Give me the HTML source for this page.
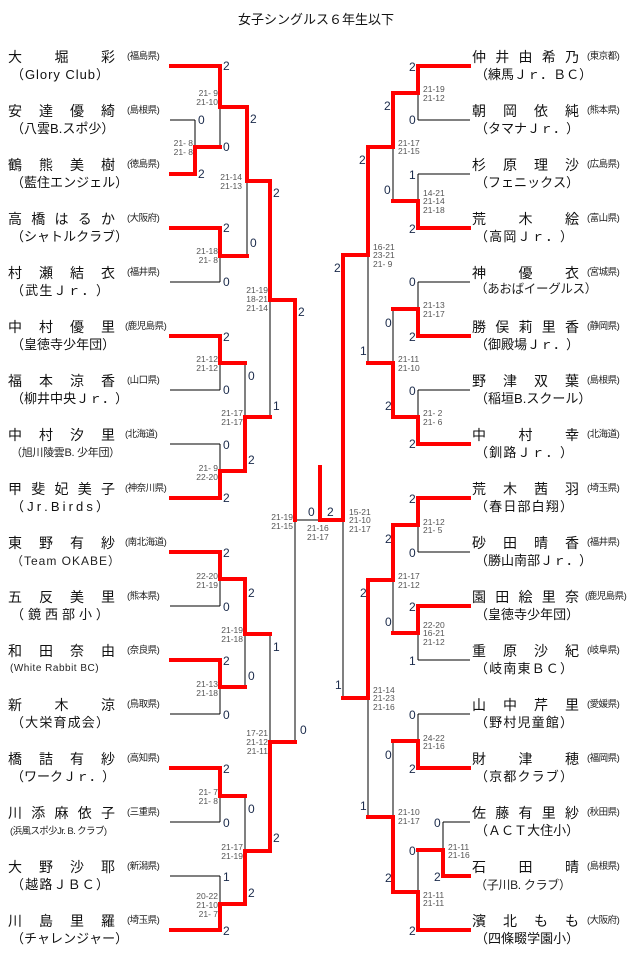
<!DOCTYPE html>
<html><head><meta charset="utf-8">
<style>
body{margin:0;width:632px;height:962px;background:#fff;position:relative;overflow:hidden;font-family:"Liberation Sans","Noto Sans CJK JP",sans-serif;}
.t{position:absolute;left:0;width:632px;top:9px;text-align:center;font-size:13px;color:#111;}
.n{position:absolute;display:flex;justify-content:space-between;width:107px;font-size:14px;line-height:16px;color:#111;}
.p{position:absolute;font-size:9.5px;line-height:12px;color:#222;letter-spacing:-0.5px;}
.m{position:absolute;display:flex;justify-content:space-between;width:98px;font-size:13px;line-height:15px;color:#111;}
.s{position:absolute;font-size:9.5px;line-height:12px;color:#222;white-space:nowrap;letter-spacing:-0.3px;}
.L .n,.L .p,.L .m,.L .s{}
svg{position:absolute;left:0;top:0;}
</style></head><body>
<div class="t">女子シングルス６年生以下</div>

<!-- LEFT -->
<div class="n" style="left:8px;top:49px"><span>大</span><span>堀</span><span>彩</span></div><div class="p" style="left:127px;top:51px">(福島県)</div>
<div class="m" style="left:11px;top:67px"><span>（</span><span>G</span><span>l</span><span>o</span><span>r</span><span>y</span><span>&nbsp;</span><span>C</span><span>l</span><span>u</span><span>b</span><span>）</span></div>

<div class="n" style="left:8px;top:103px"><span>安</span><span>達</span><span>優</span><span>綺</span></div><div class="p" style="left:127px;top:105px">(島根県)</div>
<div class="m" style="left:11px;top:121px"><span>（</span><span>八</span><span>雲</span><span>B</span><span>.</span><span>ス</span><span>ポ</span><span>少</span><span>）</span></div>

<div class="n" style="left:8px;top:157px"><span>鶴</span><span>熊</span><span>美</span><span>樹</span></div><div class="p" style="left:127px;top:159px">(徳島県)</div>
<div class="m" style="left:11px;top:175px"><span>（</span><span>藍</span><span>住</span><span>エ</span><span>ン</span><span>ジ</span><span>ェ</span><span>ル</span><span>）</span></div>

<div class="n" style="left:8px;top:211px"><span>高</span><span>橋</span><span>は</span><span>る</span><span>か</span></div><div class="p" style="left:127px;top:213px">(大阪府)</div>
<div class="m" style="left:11px;top:229px"><span>（</span><span>シ</span><span>ャ</span><span>ト</span><span>ル</span><span>ク</span><span>ラ</span><span>ブ</span><span>）</span></div>

<div class="n" style="left:8px;top:265px"><span>村</span><span>瀬</span><span>結</span><span>衣</span></div><div class="p" style="left:127px;top:267px">(福井県)</div>
<div class="m" style="left:11px;top:283px"><span>（</span><span>武</span><span>生</span><span>Ｊ</span><span>ｒ</span><span>．</span><span>）</span></div>

<div class="n" style="left:8px;top:319px"><span>中</span><span>村</span><span>優</span><span>里</span></div><div class="p" style="left:125px;top:321px">(鹿児島県)</div>
<div class="m" style="left:11px;top:337px"><span>（</span><span>皇</span><span>徳</span><span>寺</span><span>少</span><span>年</span><span>団</span><span>）</span></div>

<div class="n" style="left:8px;top:373px"><span>福</span><span>本</span><span>涼</span><span>香</span></div><div class="p" style="left:127px;top:375px">(山口県)</div>
<div class="m" style="left:11px;top:391px"><span>（</span><span>柳</span><span>井</span><span>中</span><span>央</span><span>Ｊ</span><span>ｒ</span><span>．</span><span>）</span></div>

<div class="n" style="left:8px;top:427px"><span>中</span><span>村</span><span>汐</span><span>里</span></div><div class="p" style="left:125px;top:429px">(北海道)</div>
<div class="s" style="left:11px;top:447px;font-size:11px">（旭川陵雲B. 少年団）</div>

<div class="n" style="left:8px;top:481px"><span>甲</span><span>斐</span><span>妃</span><span>美</span><span>子</span></div><div class="p" style="left:125px;top:483px">(神奈川県)</div>
<div class="m" style="left:11px;top:499px"><span>（</span><span>J</span><span>r</span><span>.</span><span>B</span><span>i</span><span>r</span><span>d</span><span>s</span><span>）</span></div>

<div class="n" style="left:8px;top:535px"><span>東</span><span>野</span><span>有</span><span>紗</span></div><div class="p" style="left:125px;top:537px">(南北海道)</div>
<div class="s" style="left:11px;top:555px;font-size:12px;letter-spacing:1px">（Team OKABE）</div>

<div class="n" style="left:8px;top:589px"><span>五</span><span>反</span><span>美</span><span>里</span></div><div class="p" style="left:127px;top:591px">(熊本県)</div>
<div class="m" style="left:11px;top:607px"><span>（</span><span>鏡</span><span>西</span><span>部</span><span>小</span><span>）</span></div>

<div class="n" style="left:8px;top:643px"><span>和</span><span>田</span><span>奈</span><span>由</span></div><div class="p" style="left:127px;top:645px">(奈良県)</div>
<div class="s" style="left:10px;top:663px;font-size:10px;letter-spacing:0.5px">(White Rabbit BC)</div>

<div class="n" style="left:8px;top:697px"><span>新</span><span>木</span><span>涼</span></div><div class="p" style="left:127px;top:699px">(鳥取県)</div>
<div class="m" style="left:11px;top:715px"><span>（</span><span>大</span><span>栄</span><span>育</span><span>成</span><span>会</span><span>）</span></div>

<div class="n" style="left:8px;top:751px"><span>橋</span><span>詰</span><span>有</span><span>紗</span></div><div class="p" style="left:127px;top:753px">(高知県)</div>
<div class="m" style="left:11px;top:769px"><span>（</span><span>ワ</span><span>ー</span><span>ク</span><span>Ｊ</span><span>ｒ</span><span>．</span><span>）</span></div>

<div class="n" style="left:8px;top:805px"><span>川</span><span>添</span><span>麻</span><span>依</span><span>子</span></div><div class="p" style="left:127px;top:807px">(三重県)</div>
<div class="s" style="left:10px;top:826px;font-size:9.5px;letter-spacing:-0.6px">(浜風スポ少Jr. B. クラブ)</div>

<div class="n" style="left:8px;top:859px"><span>大</span><span>野</span><span>沙</span><span>耶</span></div><div class="p" style="left:127px;top:861px">(新潟県)</div>
<div class="m" style="left:11px;top:877px"><span>（</span><span>越</span><span>路</span><span>Ｊ</span><span>Ｂ</span><span>Ｃ</span><span>）</span></div>

<div class="n" style="left:8px;top:913px"><span>川</span><span>島</span><span>里</span><span>羅</span></div><div class="p" style="left:127px;top:915px">(埼玉県)</div>
<div class="m" style="left:11px;top:931px"><span>（</span><span>チ</span><span>ャ</span><span>レ</span><span>ン</span><span>ジ</span><span>ャ</span><span>ー</span><span>）</span></div>

<!-- RIGHT -->
<div class="n" style="left:472px;top:49px"><span>仲</span><span>井</span><span>由</span><span>希</span><span>乃</span></div><div class="p" style="left:587px;top:51px">(東京都)</div>
<div class="m" style="left:475px;top:67px"><span>（</span><span>練</span><span>馬</span><span>Ｊ</span><span>ｒ</span><span>．</span><span>Ｂ</span><span>Ｃ</span><span>）</span></div>

<div class="n" style="left:472px;top:103px"><span>朝</span><span>岡</span><span>依</span><span>純</span></div><div class="p" style="left:587px;top:105px">(熊本県)</div>
<div class="m" style="left:475px;top:121px"><span>（</span><span>タ</span><span>マ</span><span>ナ</span><span>Ｊ</span><span>ｒ</span><span>．</span><span>）</span></div>

<div class="n" style="left:472px;top:157px"><span>杉</span><span>原</span><span>理</span><span>沙</span></div><div class="p" style="left:587px;top:159px">(広島県)</div>
<div class="m" style="left:475px;top:175px"><span>（</span><span>フ</span><span>ェ</span><span>ニ</span><span>ッ</span><span>ク</span><span>ス</span><span>）</span></div>

<div class="n" style="left:472px;top:211px"><span>荒</span><span>木</span><span>絵</span></div><div class="p" style="left:587px;top:213px">(富山県)</div>
<div class="m" style="left:475px;top:229px"><span>（</span><span>高</span><span>岡</span><span>Ｊ</span><span>ｒ</span><span>．</span><span>）</span></div>

<div class="n" style="left:472px;top:265px"><span>神</span><span>優</span><span>衣</span></div><div class="p" style="left:587px;top:267px">(宮城県)</div>
<div class="s" style="left:475px;top:283px;font-size:12.5px">（あおばイーグルス）</div>

<div class="n" style="left:472px;top:319px"><span>勝</span><span>俣</span><span>莉</span><span>里</span><span>香</span></div><div class="p" style="left:587px;top:321px">(静岡県)</div>
<div class="m" style="left:475px;top:337px"><span>（</span><span>御</span><span>殿</span><span>場</span><span>Ｊ</span><span>ｒ</span><span>．</span><span>）</span></div>

<div class="n" style="left:472px;top:373px"><span>野</span><span>津</span><span>双</span><span>葉</span></div><div class="p" style="left:587px;top:375px">(島根県)</div>
<div class="m" style="left:475px;top:391px"><span>（</span><span>稲</span><span>垣</span><span>B</span><span>.</span><span>ス</span><span>ク</span><span>ー</span><span>ル</span><span>）</span></div>

<div class="n" style="left:472px;top:427px"><span>中</span><span>村</span><span>幸</span></div><div class="p" style="left:587px;top:429px">(北海道)</div>
<div class="m" style="left:475px;top:445px"><span>（</span><span>釧</span><span>路</span><span>Ｊ</span><span>ｒ</span><span>．</span><span>）</span></div>

<div class="n" style="left:472px;top:481px"><span>荒</span><span>木</span><span>茜</span><span>羽</span></div><div class="p" style="left:587px;top:483px">(埼玉県)</div>
<div class="m" style="left:475px;top:499px"><span>（</span><span>春</span><span>日</span><span>部</span><span>白</span><span>翔</span><span>）</span></div>

<div class="n" style="left:472px;top:535px"><span>砂</span><span>田</span><span>晴</span><span>香</span></div><div class="p" style="left:587px;top:537px">(福井県)</div>
<div class="m" style="left:475px;top:553px"><span>（</span><span>勝</span><span>山</span><span>南</span><span>部</span><span>Ｊ</span><span>ｒ</span><span>．</span><span>）</span></div>

<div class="n" style="left:472px;top:589px"><span>園</span><span>田</span><span>絵</span><span>里</span><span>奈</span></div><div class="p" style="left:585px;top:591px">(鹿児島県)</div>
<div class="m" style="left:475px;top:607px"><span>（</span><span>皇</span><span>徳</span><span>寺</span><span>少</span><span>年</span><span>団</span><span>）</span></div>

<div class="n" style="left:472px;top:643px"><span>重</span><span>原</span><span>沙</span><span>紀</span></div><div class="p" style="left:587px;top:645px">(岐阜県)</div>
<div class="m" style="left:475px;top:661px"><span>（</span><span>岐</span><span>南</span><span>東</span><span>Ｂ</span><span>Ｃ</span><span>）</span></div>

<div class="n" style="left:472px;top:697px"><span>山</span><span>中</span><span>芹</span><span>里</span></div><div class="p" style="left:587px;top:699px">(愛媛県)</div>
<div class="m" style="left:475px;top:715px"><span>（</span><span>野</span><span>村</span><span>児</span><span>童</span><span>館</span><span>）</span></div>

<div class="n" style="left:472px;top:751px"><span>財</span><span>津</span><span>穂</span></div><div class="p" style="left:587px;top:753px">(福岡県)</div>
<div class="m" style="left:475px;top:769px"><span>（</span><span>京</span><span>都</span><span>ク</span><span>ラ</span><span>ブ</span><span>）</span></div>

<div class="n" style="left:472px;top:805px"><span>佐</span><span>藤</span><span>有</span><span>里</span><span>紗</span></div><div class="p" style="left:587px;top:807px">(秋田県)</div>
<div class="m" style="left:475px;top:823px"><span>（</span><span>Ａ</span><span>Ｃ</span><span>Ｔ</span><span>大</span><span>住</span><span>小</span><span>）</span></div>

<div class="n" style="left:472px;top:859px"><span>石</span><span>田</span><span>晴</span></div><div class="p" style="left:587px;top:861px">(島根県)</div>
<div class="s" style="left:475px;top:879px;font-size:12px">（子川B. クラブ）</div>

<div class="n" style="left:472px;top:913px"><span>濱</span><span>北</span><span>も</span><span>も</span></div><div class="p" style="left:587px;top:915px">(大阪府)</div>
<div class="m" style="left:475px;top:931px"><span>（</span><span>四</span><span>條</span><span>畷</span><span>学</span><span>園</span><span>小</span><span>）</span></div>

<svg width="632" height="962" viewBox="0 0 632 962">
<g stroke="#000" stroke-width="1" fill="none">
<path d="M170 66H220M170 228H220M170 282H220M170 336H220M170 390H220M170 444H220M170 498H220M170 552H220M170 606H220M170 660H220M170 714H220M170 768H220M170 822H220M170 876H220M170 930H220M170 120H195M170 174H195"/>
<path d="M195 120V174M220 66V147M220 228V282M220 336V390M220 444V498M220 552V606M220 660V714M220 768V822M220 876V930"/>
<path d="M195 147H220M220 107H247M220 256H247M220 363H245M220 471H245M220 579H245M220 687H245M220 796H245M220 904H245"/>
<path d="M247 107V256M245 363V471M245 579V687M245 796V904M247 181H270M245 417H270M245 634H270M245 851H270M270 181V417M270 634V851M270 300H295M270 742H295M295 300V742M295 520H343M343 255V698"/>
<path d="M343 255H368M343 698H368M368 147V363M368 580V817M368 147H393M368 363H393M368 580H393M368 817H393"/>
<path d="M393 93V201M393 309V417M393 525V633M393 742V892M393 93H418M393 201H418M393 309H418M393 417H418M393 525H418M393 633H418M393 742H418M393 892H418"/>
<path d="M418 66V120M418 174V228M418 282V336M418 390V444M418 498V552M418 606V660M418 714V768M418 850V930M418 850H443M443 822V876"/>
<path d="M418 66H470M418 120H470M418 174H470M418 228H470M418 282H470M418 336H470M418 390H470M418 444H470M418 498H470M418 552H470M418 606H470M418 660H470M418 714H470M418 768H470M443 822H470M443 876H470M418 930H470"/>
</g>
<g stroke="#f00" stroke-width="4" fill="none" stroke-linejoin="miter" stroke-linecap="square">
<path d="M171 66H220V107H247V181H270V300H295V520"/>
<path d="M171 174H195V147H220"/>
<path d="M171 228H220V256H247"/>
<path d="M171 336H220V363H245"/>
<path d="M171 498H220V471H245V417H270"/>
<path d="M171 552H220V579H245V634H270"/>
<path d="M171 660H220V687H245"/>
<path d="M171 768H220V796H245"/>
<path d="M171 930H220V904H245V851H270V742H295"/>
<path d="M320 467V520H343V255H368V147H393V93H418V66H469"/>
<path d="M469 228H418V201H393"/>
<path d="M469 336H418V309H393"/>
<path d="M469 444H418V417H393V363H368"/>
<path d="M469 498H418V525H393V580H368V698H343"/>
<path d="M469 606H418V633H393"/>
<path d="M469 768H418V741H393"/>
<path d="M469 876H443V850H418"/>
<path d="M469 930H418V892H393V817H368"/>
</g>
<g font-family="Liberation Sans, sans-serif" font-size="8.5" fill="#555" text-anchor="end">
<text x="218" y="96">21- 9</text><text x="218" y="105">21-10</text>
<text x="193" y="146">21- 8</text><text x="193" y="155">21- 8</text>
<text x="242" y="180">21-14</text><text x="242" y="189">21-13</text>
<text x="218" y="254">21-18</text><text x="218" y="263">21- 8</text>
<text x="268" y="293">21-19</text><text x="268" y="302">18-21</text><text x="268" y="311">21-14</text>
<text x="218" y="362">21-12</text><text x="218" y="371">21-12</text>
<text x="243" y="416">21-17</text><text x="243" y="425">21-17</text>
<text x="218" y="471">21- 9</text><text x="218" y="480">22-20</text>
<text x="293" y="520">21-19</text><text x="293" y="529">21-15</text>
<text x="218" y="579">22-20</text><text x="218" y="588">21-19</text>
<text x="243" y="633">21-19</text><text x="243" y="642">21-18</text>
<text x="218" y="687">21-13</text><text x="218" y="696">21-18</text>
<text x="268" y="736">17-21</text><text x="268" y="745">21-12</text><text x="268" y="754">21-11</text>
<text x="218" y="795">21- 7</text><text x="218" y="804">21- 8</text>
<text x="243" y="850">21-17</text><text x="243" y="859">21-19</text>
<text x="218" y="899">20-22</text><text x="218" y="908">21-10</text><text x="218" y="917">21- 7</text>
</g>
<g font-family="Liberation Sans, sans-serif" font-size="8.5" fill="#555">
<text x="307" y="531">21-16</text><text x="307" y="540">21-17</text>
<text x="349" y="515">15-21</text><text x="349" y="523">21-10</text><text x="349" y="532">21-17</text>
<text x="423" y="92">21-19</text><text x="423" y="101">21-12</text>
<text x="398" y="146">21-17</text><text x="398" y="154">21-15</text>
<text x="423" y="196">14-21</text><text x="423" y="204">21-14</text><text x="423" y="213">21-18</text>
<text x="373" y="250">16-21</text><text x="373" y="258">23-21</text><text x="373" y="267">21- 9</text>
<text x="423" y="308">21-13</text><text x="423" y="317">21-17</text>
<text x="398" y="362">21-11</text><text x="398" y="371">21-10</text>
<text x="423" y="416">21- 2</text><text x="423" y="425">21- 6</text>
<text x="423" y="525">21-12</text><text x="423" y="533">21- 5</text>
<text x="398" y="579">21-17</text><text x="398" y="588">21-12</text>
<text x="423" y="628">22-20</text><text x="423" y="636">16-21</text><text x="423" y="645">21-12</text>
<text x="373" y="693">21-14</text><text x="373" y="701">21-23</text><text x="373" y="710">21-16</text>
<text x="423" y="741">24-22</text><text x="423" y="749">21-16</text>
<text x="398" y="815">21-10</text><text x="398" y="824">21-17</text>
<text x="448" y="850">21-11</text><text x="448" y="858">21-16</text>
<text x="423" y="898">21-11</text><text x="423" y="906">21-11</text>
</g>
<g font-family="Liberation Sans, sans-serif" font-size="12" fill="#1a2a4a">
<text x="223" y="70">2</text><text x="198" y="124">0</text><text x="198" y="178">2</text><text x="223" y="151">0</text><text x="250" y="123">2</text>
<text x="223" y="232">2</text><text x="223" y="286">0</text><text x="250" y="247">0</text><text x="273" y="197">2</text><text x="298" y="316">2</text>
<text x="273" y="410">1</text><text x="223" y="341">2</text><text x="223" y="394">0</text><text x="248" y="380">0</text><text x="223" y="449">0</text>
<text x="223" y="502">2</text><text x="248" y="464">2</text><text x="308" y="516">0</text><text x="327" y="516">2</text>
<text x="223" y="557">2</text><text x="223" y="611">0</text><text x="248" y="597">2</text><text x="223" y="665">2</text><text x="223" y="719">0</text>
<text x="248" y="680">0</text><text x="273" y="651">1</text><text x="223" y="773">2</text><text x="223" y="827">0</text><text x="248" y="813">0</text>
<text x="223" y="881">1</text><text x="223" y="935">2</text><text x="248" y="897">2</text><text x="273" y="842">2</text><text x="300" y="734">0</text>
<text x="409" y="71">2</text><text x="409" y="124">0</text><text x="384" y="110">2</text><text x="409" y="179">1</text><text x="409" y="233">2</text>
<text x="384" y="194">0</text><text x="359" y="164">2</text><text x="409" y="286">0</text><text x="409" y="341">2</text><text x="385" y="327">0</text>
<text x="409" y="395">0</text><text x="409" y="448">2</text><text x="385" y="410">2</text><text x="360" y="355">1</text><text x="334" y="272">2</text>
<text x="409" y="503">2</text><text x="409" y="557">0</text><text x="385" y="543">2</text><text x="409" y="611">2</text><text x="409" y="665">1</text>
<text x="385" y="626">0</text><text x="360" y="597">2</text><text x="409" y="719">0</text><text x="409" y="773">2</text><text x="385" y="759">0</text>
<text x="434" y="827">0</text><text x="434" y="881">2</text><text x="409" y="855">0</text><text x="409" y="935">2</text><text x="385" y="882">2</text>
<text x="360" y="810">1</text><text x="335" y="689">1</text>
</g>
</svg>
</body></html>
